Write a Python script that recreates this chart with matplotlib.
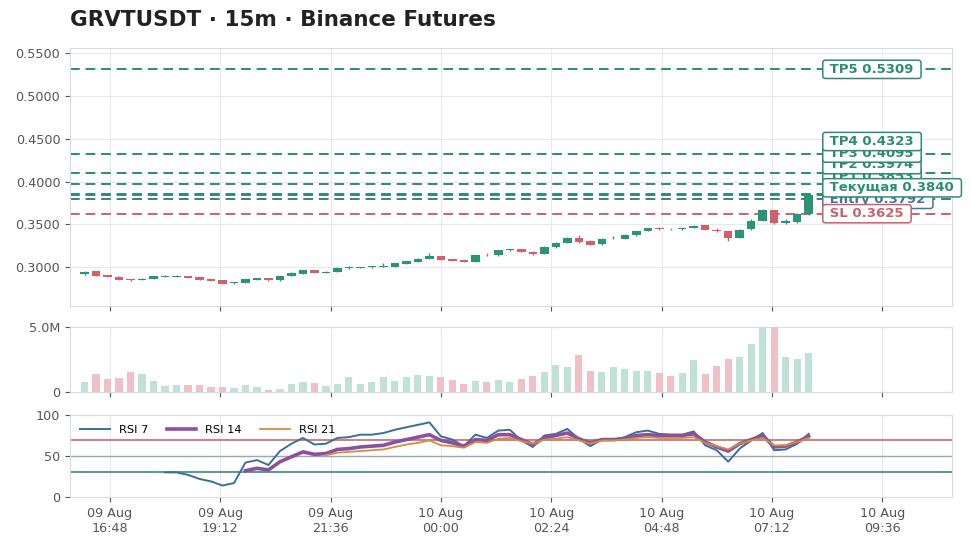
import numpy as np
import pandas as pd
import matplotlib
matplotlib.use("Agg")
import matplotlib.pyplot as plt
import matplotlib.dates as mdates
import matplotlib.transforms as mtransforms

# ---- data ----
start_time = "2025-08-09 16:15"
opens = [0.2920, 0.2952, 0.2905, 0.2890, 0.2858, 0.2850, 0.2862, 0.2888, 0.2889, 0.2897,
         0.2885, 0.2860, 0.2846, 0.2812, 0.2815, 0.2856, 0.2874, 0.2846, 0.2898, 0.2922,
         0.2963, 0.2938, 0.2948, 0.2990, 0.2990, 0.2998, 0.3008, 0.3008, 0.3040, 0.3065,
         0.3095, 0.3128, 0.3095, 0.3082, 0.3065, 0.3148, 0.3140, 0.3200, 0.3212, 0.3180,
         0.3158, 0.3238, 0.3285, 0.3340, 0.3310, 0.3268, 0.3336, 0.3335, 0.3372, 0.3422,
         0.3455, 0.3450, 0.3446, 0.3456, 0.3488, 0.3440, 0.3420, 0.3345, 0.3445, 0.3540,
         0.3665, 0.3515, 0.3525, 0.3620]
highs = [0.2952, 0.2956, 0.2910, 0.2895, 0.2862, 0.2872, 0.2898, 0.2912, 0.2906, 0.2900,
         0.2888, 0.2863, 0.2848, 0.2830, 0.2862, 0.2877, 0.2878, 0.2903, 0.2950, 0.2968,
         0.2966, 0.2953, 0.2998, 0.3010, 0.3008, 0.3018, 0.3045, 0.3048, 0.3078, 0.3103,
         0.3165, 0.3132, 0.3100, 0.3085, 0.3143, 0.3172, 0.3205, 0.3218, 0.3216, 0.3186,
         0.3245, 0.3292, 0.3348, 0.3382, 0.3315, 0.3340, 0.3360, 0.3385, 0.3428, 0.3460,
         0.3470, 0.3462, 0.3470, 0.3490, 0.3490, 0.3455, 0.3423, 0.3442, 0.3560, 0.3680,
         0.3668, 0.3560, 0.3628, 0.3855]
lows = [0.2915, 0.2895, 0.2882, 0.2850, 0.2845, 0.2848, 0.2860, 0.2885, 0.2886, 0.2875,
        0.2853, 0.2840, 0.2802, 0.2808, 0.2812, 0.2853, 0.2842, 0.2843, 0.2895, 0.2920,
        0.2935, 0.2935, 0.2945, 0.2985, 0.2988, 0.2996, 0.3005, 0.3005, 0.3037, 0.3062,
        0.3092, 0.3088, 0.3072, 0.3058, 0.3062, 0.3128, 0.3137, 0.3195, 0.3175, 0.3148,
        0.3155, 0.3222, 0.3282, 0.3282, 0.3262, 0.3265, 0.3330, 0.3330, 0.3368, 0.3420,
        0.3430, 0.3432, 0.3440, 0.3454, 0.3437, 0.3412, 0.3310, 0.3340, 0.3440, 0.3538,
        0.3505, 0.3505, 0.3515, 0.3615]
closes = [0.2950, 0.2900, 0.2885, 0.2855, 0.2848, 0.2868, 0.2895, 0.2896, 0.2896, 0.2878,
          0.2856, 0.2843, 0.2806, 0.2826, 0.2858, 0.2874, 0.2846, 0.2898, 0.2935, 0.2963,
          0.2938, 0.2950, 0.2993, 0.2998, 0.3003, 0.3013, 0.3013, 0.3045, 0.3075, 0.3100,
          0.3132, 0.3090, 0.3075, 0.3062, 0.3140, 0.3140, 0.3200, 0.3210, 0.3182, 0.3160,
          0.3240, 0.3288, 0.3345, 0.3295, 0.3265, 0.3335, 0.3345, 0.3380, 0.3425, 0.3456,
          0.3447, 0.3442, 0.3458, 0.3487, 0.3440, 0.3418, 0.3345, 0.3438, 0.3545, 0.3670,
          0.3512, 0.3540, 0.3625, 0.3840]
volumes_m = [0.79, 1.38, 0.97, 1.07, 1.53, 1.38, 0.84, 0.46, 0.54, 0.54,
             0.54, 0.36, 0.36, 0.28, 0.54, 0.36, 0.15, 0.23, 0.61, 0.79,
             0.72, 0.46, 0.61, 1.12, 0.61, 0.79, 1.12, 0.84, 1.12, 1.30,
             1.22, 1.12, 0.92, 0.61, 0.84, 0.79, 0.92, 0.77, 1.00, 1.22,
             1.53, 2.07, 1.91, 2.83, 1.61, 1.53, 1.91, 1.76, 1.61, 1.61,
             1.45, 1.22, 1.45, 2.45, 1.38, 1.99, 2.53, 2.66, 3.68, 5.60,
             5.30, 2.66, 2.53, 2.99]
nan = np.nan
rsi7 = [nan] * 7 + [30, 30, 27, 22, 19, 14, 17, 42, 45, 39,
                    56, 65, 72, 64, 65, 72, 73, 76, 76, 78,
                    82, 85, 88, 91, 74, 70, 62, 76, 72, 81,
                    82, 69, 61, 75, 77, 83, 71, 62, 70, 70,
                    73, 79, 81, 77, 76, 76, 80, 63, 57, 43,
                    59, 69, 78, 57, 58, 65, 77]
rsi14 = [nan] * 14 + [32, 35, 33, 43, 49, 55, 52, 53, 58, 59,
                      61, 62, 63, 67, 70, 73, 76, 69, 66, 62,
                      70, 69, 76, 76, 70, 64, 72, 75, 78, 71,
                      66, 70, 70, 71, 75, 76, 75, 75, 75, 77,
                      67, 61, 56, 65, 70, 75, 61, 62, 67, 74]
rsi21 = [nan] * 21 + [51, 54, 55, 56, 57, 58, 61, 64, 66, 69,
                      63, 62, 60, 67, 66, 71, 72, 68, 65, 70,
                      71, 73, 69, 65, 69, 69, 70, 72, 73, 72,
                      72, 72, 73, 66, 62, 58, 65, 69, 72, 63,
                      63, 67, 72]

level_names = ["Entry", "SL", "TP1", "TP2", "TP3", "TP4", "TP5", "Текущая"]
level_prices = [0.3792, 0.3625, 0.3853, 0.3974, 0.4095, 0.4323, 0.5309, 0.3840]
x_ticks = ["2025-08-09 16:48", "2025-08-09 19:12", "2025-08-09 21:36", "2025-08-10 00:00",
           "2025-08-10 02:24", "2025-08-10 04:48", "2025-08-10 07:12", "2025-08-10 09:36"]

UP = "#2b9476"
DOWN = "#d0616b"
GREEN_LVL = "#2e8b73"
ENTRY_C = "#4b7596"
SL_C = "#c9626b"
level_colors = {"Entry": ENTRY_C, "SL": SL_C, "Текущая": "#2a9070"}

times = pd.date_range(start_time, periods=len(closes), freq="15min")
x = mdates.date2num(times)
step = 15 / 1440.0

fig = plt.figure(figsize=(9.71, 5.48), dpi=100)
ax = fig.add_axes([0.0721, 0.4416, 0.9083, 0.4708])
axv = fig.add_axes([0.0721, 0.2847, 0.9083, 0.1186], sharex=ax)
axr = fig.add_axes([0.0721, 0.0931, 0.9083, 0.1496], sharex=ax)

for a in (ax, axv, axr):
    a.set_facecolor("white")
    a.grid(True, color="#e6eaef", linewidth=0.8)
    a.set_axisbelow(True)
    for s in a.spines.values():
        s.set_color("#d5dce3")
    a.tick_params(colors="#555555", labelsize=9.2, length=3.5, width=0.8)

# candles
o = np.array(opens); c = np.array(closes)
up = c >= o
cols = np.where(up, UP, DOWN)
ax.vlines(x, lows, highs, colors=cols, linewidth=1.0, zorder=3)
ax.bar(x, np.maximum(np.abs(c - o), 0.0006), bottom=np.minimum(o, c),
       width=step * 0.74, color=cols, zorder=4)

# levels + labels (pushed apart so they do not overlap)
order = np.argsort(level_prices)
label_y = {}
last = -1.0
min_gap = 0.0135
for i in order:
    name = level_names[i]
    p = level_prices[i]
    y = max(p, last + min_gap)
    label_y[name] = y
    last = y
trans = mtransforms.blended_transform_factory(ax.transAxes, ax.transData)
for name, p in zip(level_names, level_prices):
    col = level_colors.get(name, GREEN_LVL)
    ax.axhline(p, color=col, linestyle=(0, (5, 3)), linewidth=1.4, zorder=2)
for name, p in zip(level_names, level_prices):
    col = level_colors.get(name, GREEN_LVL)
    ax.text(0.8565, label_y[name], f" {name} {p:.4f} ", transform=trans,
            ha="left", va="center", fontsize=9.5, fontweight="bold", color=col, zorder=6,
            bbox=dict(boxstyle="round,pad=0.2", facecolor="white", edgecolor=col, linewidth=1.1))

ax.set_ylim(0.2548, 0.5558)
ax.set_yticks([0.30, 0.35, 0.40, 0.45, 0.50, 0.55])
ax.yaxis.set_major_formatter(matplotlib.ticker.FormatStrFormatter("%.4f"))
ax.tick_params(labelbottom=False)

# volume
vol = np.array(volumes_m) * 1e6
vcols = np.where(up, "#bfe1d6", "#f0c0c6")
axv.bar(x, vol, width=step * 0.62, color=vcols, zorder=3)
axv.set_ylim(0, 5.0e6)
axv.set_yticks([0, 5.0e6])
axv.set_yticklabels(["0", "5.0M"])
axv.tick_params(labelbottom=False)

# RSI
axr.plot(x, rsi7, color="#3a6f9a", linewidth=1.4, label="RSI 7", zorder=4)
axr.plot(x, rsi14, color="#8e4fa0", linewidth=2.6, label="RSI 14", zorder=4)
axr.plot(x, rsi21, color="#d0903a", linewidth=1.3, label="RSI 21", zorder=4)
axr.axhline(70, color="#c47a78", linewidth=1.3, zorder=2)
axr.axhline(50, color="#9aa9b3", linewidth=1.0, zorder=2)
axr.axhline(30, color="#5a9898", linewidth=1.4, zorder=2)
axr.set_ylim(0, 100)
axr.set_yticks([0, 50, 100])
axr.legend(loc="upper left", ncol=3, frameon=False, fontsize=8.2,
           handlelength=2.6, columnspacing=1.6, borderaxespad=0.5)

tick_x = mdates.date2num(pd.to_datetime(x_ticks))
axr.set_xticks(tick_x)
axr.xaxis.set_major_formatter(mdates.DateFormatter("%d %b\n%H:%M"))
axr.set_xlim(x[0] - 19 / 1440.0, x[-1] + 187 / 1440.0)

fig.text(0.0721, 1 - 20 / 548, "GRVTUSDT · 15m · Binance Futures", ha="left", va="center",
         fontsize=15.5, fontweight="bold", color="#222222")

fig.savefig("out.png", dpi=100, facecolor="white")
